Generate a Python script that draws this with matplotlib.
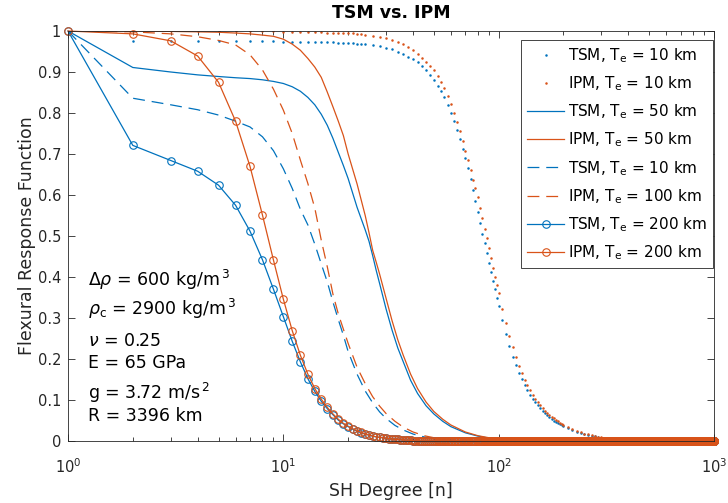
import numpy as np
import matplotlib
matplotlib.use('Agg')
import matplotlib.pyplot as plt

plt.rcParams['font.family'] = ['DejaVu Sans']
plt.rcParams['mathtext.fontset'] = 'dejavusans'

BLUE = '#0072BD'
ORANGE = '#D95319'
DARK = '#262626'

# ---- Te = 10 km (dots) ----
deg_10 = ([1, 2, 3, 4, 5, 6, 7, 8, 9, 10, 11, 12, 13, 14, 15, 16, 17, 18, 19, 20, 21, 22, 23, 24]
          + list(range(26, 101, 2)) + list(range(104, 201, 4)) + list(range(210, 301, 10))
          + [350, 400, 450, 500, 550, 600, 650, 700, 750, 800, 850, 900, 950, 1000])
tsm_10 = [1.0, 0.976, 0.976, 0.976, 0.976, 0.975, 0.975, 0.975, 0.975, 0.974, 0.974, 0.974,
          0.973, 0.973, 0.973, 0.972, 0.972, 0.971, 0.971, 0.970, 0.970, 0.969, 0.969, 0.968,
          0.967, 0.963, 0.959, 0.955, 0.949, 0.943, 0.937, 0.931, 0.924, 0.915, 0.905, 0.893,
          0.880, 0.867, 0.853, 0.838, 0.820, 0.800, 0.780, 0.758, 0.736, 0.713, 0.690, 0.665,
          0.638, 0.612, 0.585, 0.558, 0.532, 0.506, 0.482, 0.458, 0.435, 0.413, 0.391, 0.370,
          0.350, 0.330,
          0.294, 0.261, 0.232, 0.206, 0.185, 0.167, 0.151, 0.137, 0.124, 0.113, 0.103, 0.095,
          0.087, 0.080, 0.073, 0.068, 0.063, 0.058, 0.054, 0.050, 0.047, 0.044, 0.041, 0.039,
          0.037,
          0.031, 0.027, 0.023, 0.020, 0.017, 0.015, 0.013, 0.011, 0.010, 0.008,
          0.004, 0.002, 0.001, 0, 0, 0, 0, 0, 0, 0, 0, 0, 0, 0]
ipm_10 = [1.0, 1.0, 1.0, 0.999, 0.999, 0.999, 0.999, 0.999, 0.999, 0.998, 0.998, 0.998,
          0.997, 0.997, 0.997, 0.996, 0.996, 0.996, 0.995, 0.995, 0.994, 0.993, 0.992, 0.991,
          0.989, 0.986, 0.982, 0.978, 0.974, 0.968, 0.962, 0.954, 0.945, 0.935, 0.925, 0.915,
          0.905, 0.891, 0.876, 0.860, 0.841, 0.821, 0.800, 0.778, 0.755, 0.731, 0.708, 0.685,
          0.661, 0.637, 0.616, 0.595, 0.569, 0.543, 0.518, 0.494, 0.470, 0.446, 0.423, 0.401,
          0.380, 0.360,
          0.322, 0.288, 0.257, 0.229, 0.205, 0.184, 0.166, 0.150, 0.136, 0.124, 0.113, 0.103,
          0.095, 0.087, 0.080, 0.074, 0.068, 0.063, 0.059, 0.055, 0.051, 0.048, 0.045, 0.042,
          0.040,
          0.034, 0.029, 0.025, 0.021, 0.018, 0.016, 0.014, 0.012, 0.010, 0.009,
          0.005, 0.002, 0.001, 0, 0, 0, 0, 0, 0, 0, 0, 0, 0, 0]

# ---- Te = 50 km (solid) ----
deg_50 = [1, 2, 3, 4, 5, 6, 7, 8, 9, 10, 11, 12, 13, 14, 15, 16, 17, 18, 19, 20, 22, 24, 25,
          26, 27, 28, 30, 32, 34, 36, 39, 42, 46, 50, 55, 60, 70, 80, 90, 100, 130, 200, 1000]
tsm_50 = [1.0, 0.911, 0.900, 0.893, 0.889, 0.886, 0.884, 0.881, 0.877, 0.872, 0.864, 0.853,
          0.838, 0.820, 0.797, 0.770, 0.738, 0.704, 0.672, 0.640, 0.570, 0.515, 0.487, 0.452,
          0.416, 0.384, 0.322, 0.270, 0.227, 0.194, 0.148, 0.116, 0.086, 0.066, 0.048, 0.035,
          0.020, 0.012, 0.007, 0.004, 0.001, 0.0, 0.0]
ipm_50 = [1.0, 1.0, 0.999, 0.998, 0.997, 0.995, 0.993, 0.990, 0.987, 0.980, 0.968, 0.953,
          0.933, 0.912, 0.887, 0.851, 0.815, 0.780, 0.745, 0.700, 0.627, 0.550, 0.508, 0.465,
          0.436, 0.407, 0.348, 0.293, 0.247, 0.210, 0.163, 0.128, 0.095, 0.072, 0.053, 0.039,
          0.022, 0.013, 0.008, 0.005, 0.001, 0.0, 0.0]

# ---- Te = 100 km (dashed) ----
deg_100 = [1, 2, 3, 4, 5, 6, 7, 8, 9, 10, 11, 12, 13, 14, 15, 16, 17, 18, 19, 20, 22, 24,
           26, 28, 30, 33, 36, 40, 45, 50, 60, 80, 1000]
tsm_100 = [1.0, 0.836, 0.820, 0.808, 0.795, 0.780, 0.766, 0.742, 0.708, 0.664, 0.616, 0.565,
           0.527, 0.480, 0.432, 0.388, 0.339, 0.296, 0.258, 0.218, 0.163, 0.122, 0.093, 0.071,
           0.055, 0.038, 0.027, 0.017, 0.010, 0.006, 0.002, 0.0, 0.0]
ipm_100 = [1.0, 0.998, 0.993, 0.986, 0.977, 0.966, 0.942, 0.905, 0.858, 0.807, 0.750, 0.685,
           0.628, 0.568, 0.490, 0.425, 0.358, 0.310, 0.273, 0.238, 0.180, 0.140, 0.108, 0.085,
           0.067, 0.048, 0.034, 0.022, 0.013, 0.008, 0.003, 0.001, 0.0]

# ---- Te = 200 km (circles at every degree 1..1000) ----
deg_200 = np.arange(1, 1001)
tsm_200_head = [1.0, 0.721, 0.684, 0.658, 0.624, 0.575, 0.512, 0.442, 0.370, 0.303, 0.243,
                0.193, 0.152, 0.121, 0.097, 0.079, 0.064, 0.051, 0.042, 0.035, 0.029, 0.024,
                0.020, 0.017, 0.014, 0.012, 0.010, 0.009, 0.008, 0.007, 0.006, 0.005, 0.004,
                0.004, 0.003, 0.003, 0.002, 0.002, 0.002, 0.001]
ipm_200_head = [1.0, 0.993, 0.976, 0.939, 0.875, 0.780, 0.670, 0.551, 0.441, 0.346, 0.269,
                0.209, 0.163, 0.128, 0.102, 0.082, 0.066, 0.053, 0.043, 0.036, 0.030, 0.025,
                0.021, 0.017, 0.015, 0.012, 0.010, 0.009, 0.008, 0.007, 0.006, 0.005, 0.004,
                0.004, 0.003, 0.003, 0.002, 0.002, 0.002, 0.001]
tsm_200 = np.r_[tsm_200_head, np.zeros(len(deg_200) - len(tsm_200_head))]
ipm_200 = np.r_[ipm_200_head, np.zeros(len(deg_200) - len(ipm_200_head))]

labels = ['TSM, T$_\\mathregular{e}$ = 10 km', 'IPM, T$_\\mathregular{e}$ = 10 km',
          'TSM, T$_\\mathregular{e}$ = 50 km', 'IPM, T$_\\mathregular{e}$ = 50 km',
          'TSM, T$_\\mathregular{e}$ = 10 km', 'IPM, T$_\\mathregular{e}$ = 100 km',
          'TSM, T$_\\mathregular{e}$ = 200 km', 'IPM, T$_\\mathregular{e}$ = 200 km']

params = [r'$\Delta\mathit{\rho}$ = 600 kg/m$^{\,3}$',
          r'$\mathit{\rho}_\mathregular{c}$ = 2900 kg/m$^{\,3}$',
          r'$\mathit{\nu}$ = 0.25',
          'E = 65 GPa',
          r'g = 3.72 m/s$^{\,2}$',
          'R = 3396 km']
param_y = [0.393, 0.322, 0.244, 0.190, 0.117, 0.061]

yticks = [0, 0.1, 0.2, 0.3, 0.4, 0.5, 0.6, 0.7, 0.8, 0.9, 1]
ytick_labels = ['0', '0.1', '0.2', '0.3', '0.4', '0.5', '0.6', '0.7', '0.8', '0.9', '1']

fig = plt.figure(figsize=(7.28, 5.03), dpi=100)
ax = fig.add_axes([68 / 728, 62 / 503, 646 / 728, 410 / 503])

lw = 0.9
dash = (0, (9.5, 5.5))
ax.plot(deg_10, tsm_10, ls='none', marker='o', ms=1.8, mew=0, color=BLUE, label=labels[0])
ax.plot(deg_10, ipm_10, ls='none', marker='o', ms=1.8, mew=0, color=ORANGE, label=labels[1])
ax.plot(deg_50, tsm_50, '-', lw=lw, color=BLUE, label=labels[2])
ax.plot(deg_50, ipm_50, '-', lw=lw, color=ORANGE, label=labels[3])
ax.plot(deg_100, tsm_100, ls=dash, lw=lw, color=BLUE, label=labels[4])
ax.plot(deg_100, ipm_100, ls=dash, lw=lw, color=ORANGE, label=labels[5])
ax.plot(deg_200, tsm_200, '-', lw=lw, color=BLUE, marker='o', ms=5.4, mew=0.8,
        mfc='none', label=labels[6], clip_on=False)
ax.plot(deg_200, ipm_200, '-', lw=lw, color=ORANGE, marker='o', ms=5.4, mew=0.8,
        mfc='none', label=labels[7], clip_on=False)

ax.set_xscale('log')
ax.set_xlim(1, 1000)
ax.set_ylim(0, 1)
ax.set_yticks(yticks)
ax.set_yticklabels(ytick_labels)

for sp in ax.spines.values():
    sp.set_color(DARK)
    sp.set_linewidth(0.6)
ax.tick_params(which='both', direction='in', top=True, right=True, colors=DARK,
               labelsize=10.5, width=0.6)
ax.tick_params(which='major', length=5, pad=5)
ax.tick_params(which='minor', length=3)
ax.tick_params(axis='x', which='major', pad=12)

ax.set_xlabel('SH Degree [n]', fontsize=12.5, color=DARK, labelpad=4)
ax.set_ylabel('Flexural Response Function', fontsize=12.5, color=DARK, labelpad=1)
ax.set_title('TSM vs. IPM', fontsize=12.5, fontweight='bold', pad=9.5)

for txt, yy in zip(params, param_y):
    ax.text(0.031, yy, txt, transform=ax.transAxes, fontsize=12.5, va='center', ha='left',
            color='black')

leg = ax.legend(loc='upper right', bbox_to_anchor=(0.9985, 0.978), borderaxespad=0,
                fontsize=11, handlelength=2.4, handletextpad=0.25, labelspacing=0.62,
                borderpad=0.4, fancybox=False, framealpha=1, edgecolor=DARK, numpoints=1)
leg.get_frame().set_linewidth(0.6)

fig.savefig('out.png', dpi=100)
